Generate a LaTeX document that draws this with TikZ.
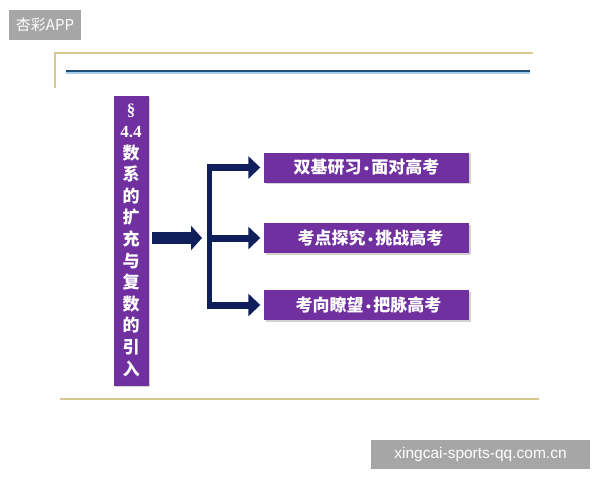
\documentclass[tikz,border=0pt]{standalone}
\usepackage{fontspec}
\setmainfont{Liberation Serif}
\newfontfamily\cjk{Noto Sans CJK SC}
\newfontfamily\wsans{Liberation Sans}
\usetikzlibrary{arrows.meta,shadows}
\definecolor{boxpurple}{HTML}{7030A0}
\definecolor{navy}{HTML}{0F1F5C}
\definecolor{goldline}{HTML}{D6C88F}
\definecolor{blueline}{HTML}{1F4E79}
\definecolor{bluehalo}{HTML}{A9CBEA}
\definecolor{wmgray}{HTML}{A6A6A6}
\newcommand{\bdot}{{\wsans\bfseries\fontsize{14}{16}\selectfont\,•\,}}
\begin{document}
\begin{tikzpicture}[x=1pt,y=-1pt,
  pbox/.style={fill=boxpurple,draw=none,text=white,inner sep=0pt,
    drop shadow={shadow xshift=1.5pt,shadow yshift=-1.5pt,opacity=0.35}},
  rbox/.style={pbox,minimum width=205pt,minimum height=30pt,
    font=\cjk\bfseries\fontsize{17}{19}\selectfont},
  bigarrow/.style={draw=navy,line width=12pt,-{Triangle[width=24pt,length=11pt]}},
  brarrow/.style={draw=navy,line width=7pt,-{Triangle[width=22pt,length=12pt]}},
  bracket/.style={draw=navy,line width=5pt,line cap=rect},
  wmark/.style={fill=wmgray,text=white,inner sep=0pt}]
\useasboundingbox (0,0) rectangle (600,480);
\fill[white] (0,0) rectangle (600,480);
% frame lines
\draw[goldline,line width=1.5pt] (55,88) -- (55,53) -- (533,53);
\draw[bluehalo,line width=4pt] (66,72) -- (530,72);
\draw[blueline,line width=2.2pt] (66,71) -- (530,71);
\draw[goldline,line width=1.5pt] (60,399) -- (539,399);
% left box
\node[pbox,minimum width=35pt,minimum height=290pt,align=center,
  font=\bfseries\fontsize{17}{21.6}\selectfont] (lbox) at (131,240.5)
  {§\\4.4\\{\cjk 数}\\{\cjk 系}\\{\cjk 的}\\{\cjk 扩}\\{\cjk 充}\\{\cjk 与}\\{\cjk 复}\\{\cjk 数}\\{\cjk 的}\\{\cjk 引}\\{\cjk 入}};
% right boxes
\node[rbox] (r1) at (366.5,167.5) {双基研习\bdot 面对高考};
\node[rbox] (r2) at (366.5,238) {\hspace{8pt}考点探究\bdot 挑战高考};
\node[rbox] (r3) at (366.5,305) {\hspace{4pt}考向瞭望\bdot 把脉高考};
% bracket
\coordinate (bt) at (209,167.5);
\coordinate (bm) at (209,238);
\coordinate (bb) at (209,305);
\draw[bracket] (bt) -- (bb);
\draw[bigarrow,shorten <=3.5pt,shorten >=7pt] (lbox.east |- bm) -- (bm);
\draw[brarrow,shorten <=-2.5pt,shorten >=3.5pt] (bt) -- (r1.west);
\draw[brarrow,shorten <=-2.5pt,shorten >=3.5pt] (bm) -- (r2.west);
\draw[brarrow,shorten <=-2.5pt,shorten >=3.5pt] (bb) -- (r3.west);
% watermarks
\node[wmark,minimum width=72pt,minimum height=30pt,font=\cjk\fontsize{15}{17}\selectfont] (wm1) at (45,25) {杏彩APP};
\node[wmark,minimum width=219pt,minimum height=29pt,font=\wsans\fontsize{15.5}{17}\selectfont] (wm2) at (480.5,454.5) {xingcai-sports-qq.com.cn};
\end{tikzpicture}
\end{document}
